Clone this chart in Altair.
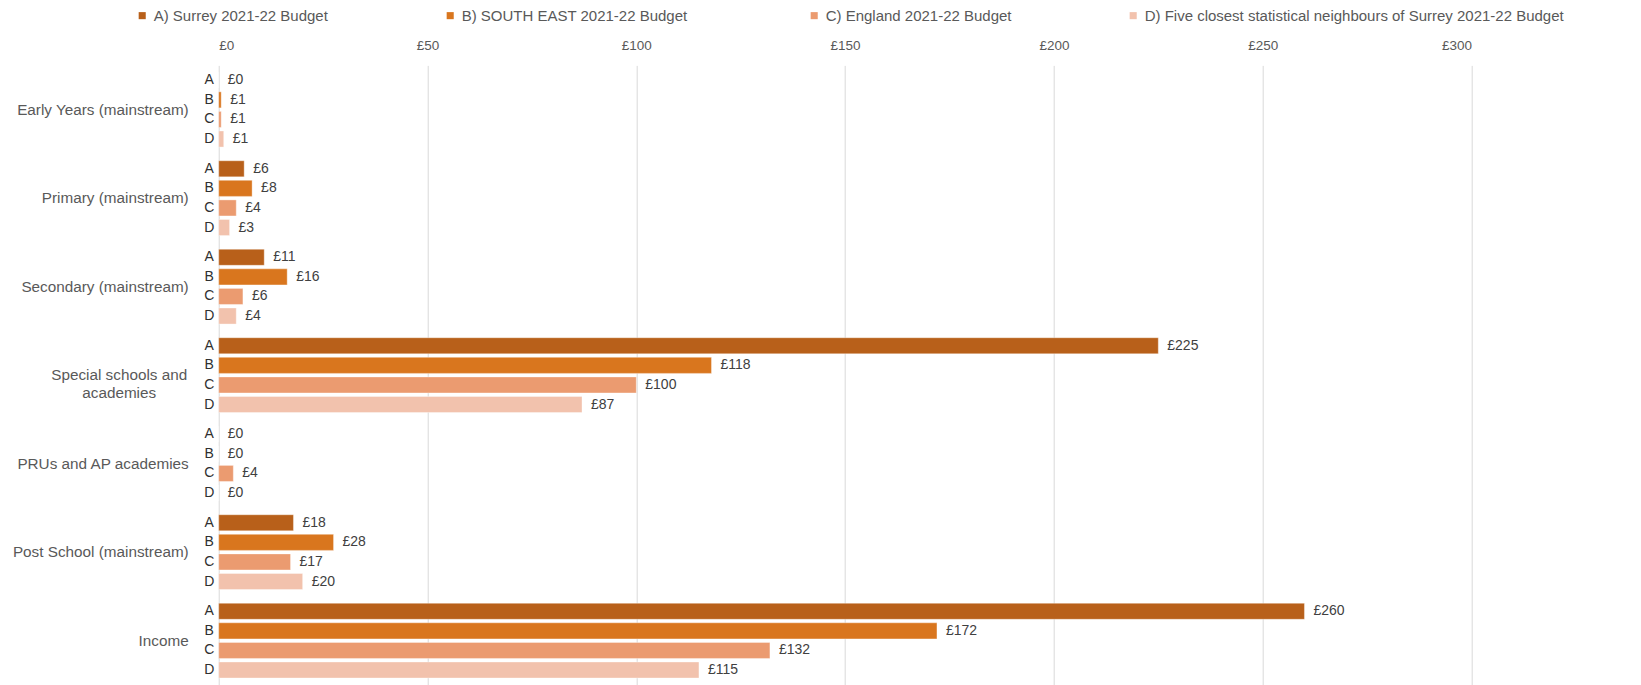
import altair as alt
import pandas as pd

categories = [
    "Early Years (mainstream)",
    "Primary (mainstream)",
    "Secondary (mainstream)",
    "Special schools and academies",
    "PRUs and AP academies",
    "Post School (mainstream)",
    "Income",
]
series = [
    "A) Surrey 2021-22 Budget",
    "B) SOUTH EAST  2021-22 Budget",
    "C) England 2021-22 Budget",
    "D) Five closest statistical neighbours of Surrey 2021-22 Budget",
]
letters = ["A", "B", "C", "D"]
surrey = [0, 6.1, 10.9, 225, 0, 17.9, 260]
south_east = [0.6, 8.0, 16.4, 118, 0, 27.5, 172]
england = [0.6, 4.2, 5.8, 100, 3.5, 17.2, 132]
neighbours = [1.2, 2.6, 4.2, 87, 0, 20.1, 115]
colors = ["#B8601A", "#D9761E", "#EB9B70", "#F2C2AD"]
x_ticks = [0, 50, 100, 150, 200, 250, 300]

rows = []
for s, letter, vals in zip(series, letters, [surrey, south_east, england, neighbours]):
    for c, v in zip(categories, vals):
        rows.append({"category": c, "series": s, "letter": letter, "value": v,
                     "label": "£" + str(round(v))})
df = pd.DataFrame(rows)

cat_df = pd.DataFrame({"category": categories,
                       "text": [c if c != "Special schools and academies" else "Special schools and\nacademies"
                                for c in categories]})

y_enc = alt.Y("category:N", sort=categories, scale=alt.Scale(paddingInner=0, paddingOuter=0), axis=None)
yoff = alt.YOffset("series:N", sort=series, scale=alt.Scale(paddingInner=0.18, paddingOuter=0.35))

bars = alt.Chart(df).mark_bar(stroke="white", strokeWidth=0.6, strokeOpacity=0.6).encode(
    x=alt.X("value:Q", scale=alt.Scale(domain=[0, 300], nice=False),
            axis=alt.Axis(orient="top", values=x_ticks, labelExpr="'£' + datum.value",
                          title=None, domain=False, ticks=False, tickSize=0, labelPadding=13,
                          labelFontSize=13.5, labelColor="#595959", grid=True, gridColor="#D9D9D9")),
    y=alt.Y("category:N", sort=categories, scale=alt.Scale(paddingInner=0, paddingOuter=0),
            axis=alt.Axis(labels=False, title=None, domain=True, domainColor="#D9D9D9",
                          ticks=True, tickColor="#D9D9D9", tickSize=4, tickBand="extent", grid=False)),
    yOffset=yoff,
    color=alt.Color("series:N", sort=series, scale=alt.Scale(domain=series, range=colors),
                    legend=alt.Legend(orient="none", legendX=-84, legendY=-57.5, direction="horizontal",
                                      title=None, symbolType="square", symbolSize=50, symbolStrokeWidth=0,
                                      labelFontSize=15, labelColor="#595959", labelLimit=0,
                                      columnPadding=114, labelOffset=4)),
)

values = alt.Chart(df).mark_text(align="left", baseline="middle", dx=9, fontSize=14, color="#404040").encode(
    x="value:Q", y=y_enc, yOffset=yoff, text="label:N")

letter_txt = alt.Chart(df).mark_text(align="center", baseline="middle", fontSize=14, color="#303030").encode(
    x=alt.value(-9.5), y=y_enc, yOffset=yoff, text="letter:N")

cat_single = alt.Chart(cat_df).transform_filter("indexof(datum.text, '\\n') < 0").mark_text(
    align="right", baseline="middle", fontSize=15.3, color="#595959").encode(
    x=alt.value(-30), y=y_enc, text="text:N")

cat_multi = alt.Chart(cat_df).transform_filter("indexof(datum.text, '\\n') >= 0").mark_text(
    align="center", baseline="middle", fontSize=15.3, color="#595959", lineBreak="\n", lineHeight=17.5).encode(
    x=alt.value(-99.5), y=y_enc, text="text:N")

chart = alt.layer(bars, values, letter_txt, cat_single, cat_multi).properties(
    width=1252.8, height=619.5,
    autosize=alt.AutoSizeParams(type="none"),
    padding={"left": 218.7, "top": 65.4, "right": 169.5, "bottom": 0},
).configure(font="Liberation Sans").configure_view(stroke=None)

chart.save("out.html", embed_options={"renderer": "svg", "actions": False})
